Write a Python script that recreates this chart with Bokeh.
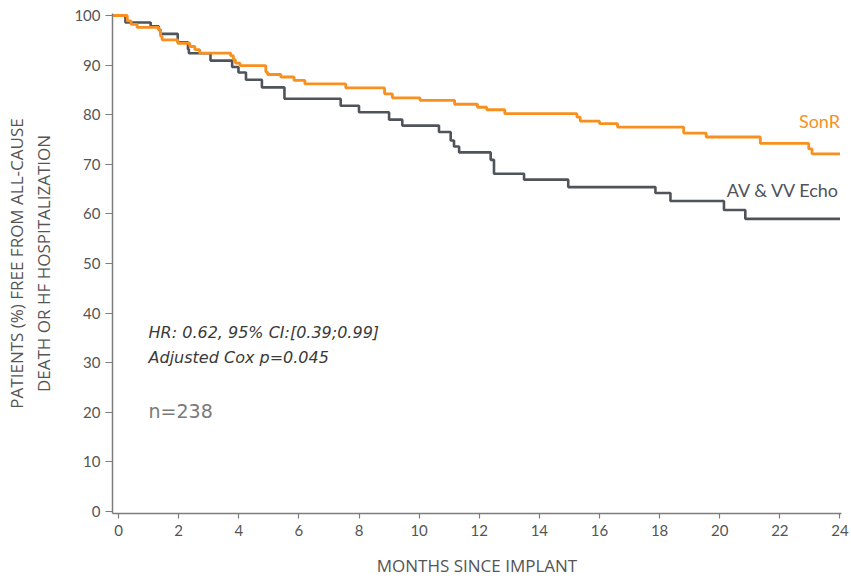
from bokeh.plotting import figure
from bokeh.models import Range1d, FixedTicker
from bokeh.core.properties import value
from bokeh.embed import file_html
from bokeh.resources import INLINE

# ---- data ----
sonr_months = [0, 0.29, 0.42, 0.62, 1.34, 1.40, 1.45, 1.97, 2.37, 2.54, 2.70, 3.73, 3.82,
               3.89, 4.04, 4.90, 4.96, 5.40, 5.84, 6.20, 7.56, 8.85, 9.11, 10.03, 11.18,
               11.94, 12.25, 12.85, 15.25, 15.36, 16.0, 16.6, 18.8, 19.55, 21.35, 22.96, 23.07]
sonr_pct = [100, 98.9, 98.2, 97.6, 97.0, 95.8, 95.1, 94.4, 93.75, 93.1, 92.4, 91.9, 91.1,
            90.4, 89.9, 88.6, 88.1, 87.6, 86.9, 86.2, 85.4, 84.2, 83.4, 82.9, 82.1,
            81.5, 81.0, 80.2, 79.5, 78.7, 78.2, 77.5, 76.3, 75.5, 74.2, 73.1, 72.1]

echo_months = [0, 0.23, 1.07, 1.34, 1.40, 1.97, 2.31, 2.34, 3.06, 3.78, 3.99, 4.24, 4.77,
               5.52, 7.39, 8.0, 9.0, 9.44, 10.66, 11.05, 11.16, 11.33, 12.38, 12.49, 13.49,
               14.96, 17.86, 18.36, 20.14, 20.85]
echo_pct = [100, 98.6, 97.8, 97.1, 96.3, 94.6, 93.2, 92.4, 90.9, 89.6, 88.5, 87.05, 85.5,
            83.2, 81.8, 80.5, 79.0, 77.8, 76.5, 74.8, 73.6, 72.4, 70.9, 68.1, 66.9,
            65.4, 64.2, 62.6, 60.8, 59.0]

follow_up_end = 24
x_ticks = list(range(0, 25, 2))
y_ticks = list(range(0, 101, 10))

series_names = ["SonR", "AV & VV Echo"]
stats_lines = ["HR: 0.62, 95% CI:[0.39;0.99]", "Adjusted Cox p=0.045"]
n_text = "n=238"

# ---- styling ----
ORANGE = "#F8901F"
GRAY = "#4F535A"
AXIS = "#7d7d7d"
TXT = "#555555"
FONT = "Lato"

X_START, X_END = -0.2, 24.05
Y_START, Y_END = -0.4, 100.4

p = figure(width=851, height=579, output_backend="svg", toolbar_location=None,
           x_range=Range1d(X_START, X_END), y_range=Range1d(Y_START, Y_END),
           min_border_left=112, min_border_right=10, min_border_top=13,
           min_border_bottom=66)
p.outline_line_color = None
p.xgrid.visible = False
p.ygrid.visible = False
p.background_fill_color = "white"
p.border_fill_color = "white"


def curve(months, pct):
    xs = [X_START] + list(months) + [follow_up_end]
    ys = [pct[0]] + list(pct) + [pct[-1]]
    return xs, ys


xs, ys = curve(echo_months, echo_pct)
p.step(xs, ys, mode="after", line_color=GRAY, line_width=2.6)
xs, ys = curve(sonr_months, sonr_pct)
p.step(xs, ys, mode="after", line_color=ORANGE, line_width=2.8)

# series labels
p.text(x=[follow_up_end], y=[78.8], text=[series_names[0]], text_align="right",
       text_baseline="middle", text_font=value(FONT), text_font_size="18px",
       text_color=ORANGE)
p.text(x=[follow_up_end], y=[64.9], text=[series_names[1]], text_align="right",
       text_baseline="middle", text_font=value(FONT), text_font_size="18px",
       text_color=GRAY)

# statistics
p.text(x=[1.0, 1.0], y=[36.1, 31.0], text=stats_lines, text_align="left",
       text_baseline="middle", text_font=value("DejaVu Sans"), text_font_size="16px",
       text_font_style="italic", text_color="#3a3a3a")
p.text(x=[1.0], y=[20.2], text=[n_text], text_align="left", text_baseline="middle",
       text_font=value("DejaVu Sans"), text_font_size="19px", text_color="#7a7a7a")

# axes
for ax in (p.xaxis[0], p.yaxis[0]):
    ax.axis_line_color = AXIS
    ax.axis_line_width = 1.5
    ax.major_tick_line_color = AXIS
    ax.major_tick_line_width = 1.2
    ax.minor_tick_line_color = None
    ax.major_tick_in = 0
    ax.major_label_text_font = FONT
    ax.major_label_text_font_size = "15px"
    ax.major_label_text_color = TXT
    ax.axis_label_text_font = "Open Sans"
    ax.axis_label_text_font_size = "17px"
    ax.axis_label_text_font_style = "normal"
    ax.axis_label_text_color = TXT

p.xaxis.ticker = FixedTicker(ticks=x_ticks)
p.yaxis.ticker = FixedTicker(ticks=y_ticks)
p.xaxis.major_tick_out = 5
p.yaxis.major_tick_out = 7
p.xaxis.major_label_standoff = 6
p.yaxis.major_label_standoff = 5
p.xaxis.axis_label = "MONTHS SINCE IMPLANT"
p.xaxis.axis_label_standoff = 15
p.yaxis.axis_label = "PATIENTS (%) FREE FROM ALL-CAUSE\nDEATH OR HF HOSPITALIZATION"
p.yaxis.axis_label_standoff = 16

open("out.html", "w").write(file_html(p, INLINE))
